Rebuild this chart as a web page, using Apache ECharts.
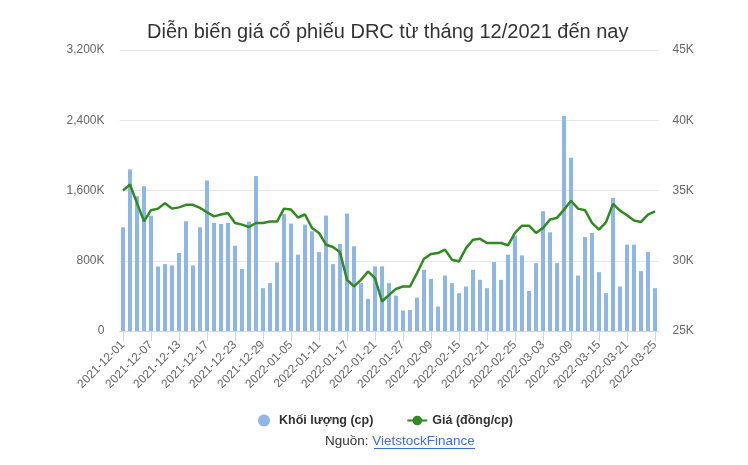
<!DOCTYPE html>
<html>
<head>
<meta charset="utf-8">
<script src="https://cdn.jsdelivr.net/npm/echarts@6/dist/echarts.min.js"></script>
<style>
html,body{margin:0;padding:0;background:#fff;}
#chart{width:748px;height:465px;}
</style>
</head>
<body>
<div id="chart"></div>
<script>
var dates = [
'2021-12-01','2021-12-02','2021-12-03','2021-12-06','2021-12-07','2021-12-08','2021-12-09','2021-12-10',
'2021-12-13','2021-12-14','2021-12-15','2021-12-16','2021-12-17','2021-12-20','2021-12-21','2021-12-22',
'2021-12-23','2021-12-24','2021-12-27','2021-12-28','2021-12-29','2021-12-30','2021-12-31',
'2022-01-04','2022-01-05','2022-01-06','2022-01-07','2022-01-10','2022-01-11','2022-01-12','2022-01-13',
'2022-01-14','2022-01-17','2022-01-18','2022-01-19','2022-01-20','2022-01-21','2022-01-24','2022-01-25',
'2022-01-26','2022-01-27','2022-01-28',
'2022-02-07','2022-02-08','2022-02-09','2022-02-10','2022-02-11','2022-02-14','2022-02-15','2022-02-16',
'2022-02-17','2022-02-18','2022-02-21','2022-02-22','2022-02-23','2022-02-24','2022-02-25','2022-02-28',
'2022-03-01','2022-03-02','2022-03-03','2022-03-04','2022-03-07','2022-03-08','2022-03-09','2022-03-10',
'2022-03-11','2022-03-14','2022-03-15','2022-03-16','2022-03-17','2022-03-18','2022-03-21','2022-03-22',
'2022-03-23','2022-03-24','2022-03-25'
];
// Volume in thousand shares
var volume = [
1181,1840,1535,1650,1314,735,762,747,888,1250,747,1181,1714,
1231,1219,1231,971,705,1246,1764,488,545,781,1333,1223,869,
1211,1135,899,1314,762,991,1337,964,545,366,735,735,545,
404,232,240,381,697,594,278,632,545,431,507,697,583,
488,785,583,869,1086,861,457,773,1364,1124,773,2450,1973,
632,1071,1116,670,431,1516,507,983,983,682,899,488
];
// Price in thousand VND
var price = [
35.0,35.43,34.1,32.81,33.6,33.71,34.1,33.71,33.8,33.98,33.98,33.76,33.45,
33.16,33.29,33.4,32.69,32.57,32.4,32.69,32.69,32.79,32.79,33.71,33.64,33.08,
33.29,32.33,31.98,31.14,30.98,30.6,28.64,28.17,28.64,29.24,28.76,27.1,27.57,
28.0,28.17,28.17,29.12,30.14,30.48,30.55,30.79,30.07,29.95,30.9,31.5,31.56,
31.26,31.26,31.26,31.1,31.98,32.5,32.5,31.98,32.33,32.93,33.05,33.64,34.27,
33.71,33.6,32.69,32.21,32.74,34.05,33.57,33.24,32.86,32.76,33.29,33.52
];
var leftTicks = [0, 800, 1600, 2400, 3200];
var rightTicks = [25, 30, 35, 40, 45];

var FONT = '"Liberation Sans", Arial, Helvetica, sans-serif';
var chart = echarts.init(document.getElementById('chart'));

function fmtK(v){
  return v.toString().replace(/\B(?=(\d{3})+(?!\d))/g, ',') + (v === 0 ? '' : 'K');
}

chart.setOption({
  animation: false,
  backgroundColor: '#ffffff',
  title: {
    text: 'Diễn biến giá cổ phiếu DRC từ tháng 12/2021 đến nay',
    left: 142,
    top: 17,
    textStyle: {fontFamily: FONT, fontSize: 20, fontWeight: 'normal', color: '#333333'}
  },
  legend: {
    bottom: 33,
    left: 253,
    itemGap: 33,
    itemWidth: 20,
    itemHeight: 12,
    textStyle: {fontFamily: FONT, fontSize: 12.5, fontWeight: 'bold', color: '#333333'},
    data: [
      {name: 'Khối lượng (cp)', icon: 'circle'},
      {name: 'Giá (đồng/cp)'}
    ]
  },
  grid: {left: 119.5, right: 89.5, top: 50, bottom: 134, containLabel: false},
  xAxis: {
    type: 'category',
    data: dates,
    boundaryGap: true,
    axisLine: {lineStyle: {color: '#ccd6eb'}},
    axisTick: {show: true, alignWithLabel: true, interval: 3, length: 10, lineStyle: {color: '#ccd6eb'}},
    axisLabel: {interval: 3, rotate: 45, fontFamily: FONT, fontSize: 12, color: '#666666', margin: 12}
  },
  yAxis: [
    {
      type: 'value', min: leftTicks[0], max: leftTicks[leftTicks.length-1], interval: 800,
      position: 'left',
      axisLine: {show: false}, axisTick: {show: false},
      splitLine: {lineStyle: {color: '#e6e6e6'}},
      axisLabel: {fontFamily: FONT, fontSize: 12, color: '#666666', margin: 15, formatter: fmtK}
    },
    {
      type: 'value', min: rightTicks[0], max: rightTicks[rightTicks.length-1], interval: 5,
      position: 'right',
      axisLine: {show: false}, axisTick: {show: false},
      splitLine: {show: false},
      axisLabel: {fontFamily: FONT, fontSize: 12, color: '#666666', margin: 14, formatter: function(v){return v + 'K';}}
    }
  ],
  series: [
    {
      name: 'Khối lượng (cp)',
      type: 'bar',
      yAxisIndex: 0,
      data: volume,
      barWidth: 4,
      itemStyle: {color: '#8fb6e6'}
    },
    {
      name: 'Giá (đồng/cp)',
      type: 'line',
      yAxisIndex: 1,
      data: price,
      symbol: 'circle',
      symbolSize: 8,
      showSymbol: false,
      lineStyle: {color: '#2f8a1f', width: 2.5},
      itemStyle: {color: '#2f8a1f'}
    }
  ],
  graphic: [
    {
      type: 'text',
      left: 325,
      top: 434,
      style: {
        text: '{a|Nguồn: }{b|VietstockFinance}',
        fontFamily: FONT,
        fontSize: 13.5,
        fill: '#333333',
        rich: {
          a: {fontFamily: FONT, fontSize: 13.5, fill: '#333333', color: '#333333'},
          b: {fontFamily: FONT, fontSize: 13.5, fill: '#3a6fd8', color: '#3a6fd8'}
        }
      }
    },
    {
      type: 'rect',
      shape: {x: 374, y: 448, width: 101, height: 1},
      style: {fill: '#3a6fd8'}
    }
  ]
});
</script>
</body>
</html>
